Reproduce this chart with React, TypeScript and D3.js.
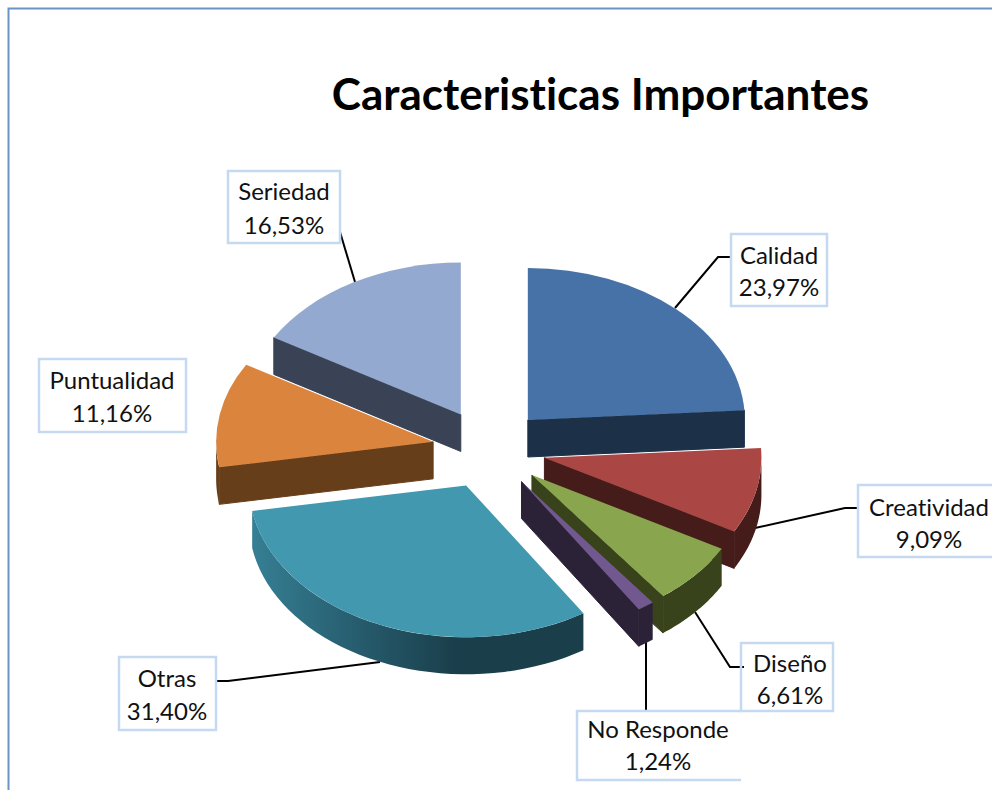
import React from "react";
import * as d3 from "d3";

// Survey shares, listed clockwise from twelve o'clock
const categories = ["Calidad", "Creatividad", "Diseño", "No Responde", "Otras", "Puntualidad", "Seriedad"];
const shares = [23.97, 9.09, 6.61, 1.24, 31.4, 11.16, 16.53];
const valueLabels = ["23,97%", "9,09%", "6,61%", "1,24%", "31,40%", "11,16%", "16,53%"];
const topColors = ["#4672a8", "#aa4643", "#89a54e", "#71588f", "#4198af", "#db843d", "#93a9cf"];
const sideColors = ["#1c3048", "#451c19", "#38431c", "#2c2238", "#1a3e4a", "#673e1a", "#3a4356"];
// Back-to-front paint order for the exploded slices
const paintOrder = [6, 5, 0, 1, 2, 3, 4];

// Label boxes: [left, top, right, bottom] and text centre / baselines
const labelBoxes = [
  [731, 234, 827, 306],
  [858, 485, 1000, 557],
  [741, 643, 833, 711],
  [577, 711, 741, 780],
  [119, 657, 216, 730],
  [39, 359, 186, 432],
  [228, 171, 340, 243],
];
const labelText = [
  [779, 264, 296],
  [929, 516, 548],
  [790, 672, 704],
  [658, 738, 770],
  [167, 687, 720],
  [112, 389, 422],
  [284, 200, 234],
];
const leaders: [number, number][][] = [
  [[675, 308], [718, 257], [731, 257]],
  [[755, 528], [845, 508], [858, 508]],
  [[695, 612], [730, 667], [744, 667]],
  [[646, 642], [646, 711]],
  [[380, 662], [228, 681], [216, 681]],
  [[340, 232], [355, 282]],
];

const FONT = "Lato, 'Open Sans', sans-serif";
const cx = 489;
const cy = 449;
const rx = 217;
const tilt = 0.7;
const explode = 56.8;
const depth = 37;

const pie = d3.pie<number>().sort(null).startAngle(0).endAngle(2 * Math.PI);
const arcs = pie(shares);
const topFace = d3.arc<d3.PieArcDatum<number>>().innerRadius(0).outerRadius(rx);
const line = d3.line();

// Projects a polar position (clockwise from the top) onto the tilted plane
const project = (ax: number, ay: number, angle: number, r = rx): [number, number] => [
  ax + r * Math.sin(angle),
  ay - r * tilt * Math.cos(angle),
];

function Slice({ index }: { index: number }) {
  const a = arcs[index];
  const mid = (a.startAngle + a.endAngle) / 2;
  const [ax, ay] = project(cx, cy, mid, explode);
  const side = sideColors[index];
  const quad = (angle: number) => {
    const [px, py] = project(ax, ay, angle);
    return line([[ax, ay], [px, py], [px, py + depth], [ax, ay + depth]]) + "Z";
  };
  const from = Math.max(a.startAngle, Math.PI / 2);
  const to = Math.min(a.endAngle, (3 * Math.PI) / 2);
  let wall: string | null = null;
  if (to > from) {
    const steps = d3.range(0, 41).map((i) => from + ((to - from) * i) / 40);
    const upper = steps.map((t) => project(ax, ay, t));
    const lower = upper.map(([x, y]) => [x, y + depth] as [number, number]).reverse();
    wall = line([...upper, ...lower]) + "Z";
  }
  const wallFill = categories[index] === "Otras" ? "url(#otrasWall)" : side;
  return (
    <g>
      {Math.sin(a.endAngle) > 0 && <path d={quad(a.endAngle)} fill={side} stroke={side} strokeWidth={1} strokeLinejoin="round" />}
      {Math.sin(a.startAngle) < 0 && <path d={quad(a.startAngle)} fill={side} stroke={side} strokeWidth={1} strokeLinejoin="round" />}
      {wall && <path d={wall} fill={wallFill} />}
      <path
        d={topFace(a) ?? ""}
        transform={`translate(${ax},${ay}) scale(1,${tilt})`}
        fill={topColors[index]}
      />
    </g>
  );
}

export default function App() {
  const textStyle = { fontVariantLigatures: "none" } as React.CSSProperties;
  return (
    <svg
      width={992}
      height={790}
      viewBox="0 0 992 790"
      style={{ position: "absolute", left: 0, top: 0, background: "#fff" }}
    >
      <defs>
        <linearGradient id="otrasWall" x1="0" x2="1" y1="0" y2="0">
          <stop offset="0" stopColor="#367f94" />
          <stop offset="0.35" stopColor="#25596a" />
          <stop offset="0.62" stopColor="#1a3e4a" />
          <stop offset="1" stopColor="#1a3e4a" />
        </linearGradient>
      </defs>

      <path d="M8.5,800V8.5H1000" fill="none" stroke="#6a93c6" strokeWidth={2} />

      <text x={600.5} y={110} textAnchor="middle" fontFamily={FONT} fontWeight={700} fontSize={44} fill="#000" style={textStyle}>
        Caracteristicas Importantes
      </text>

      {leaders.map((pts, i) => (
        <path key={i} d={line(pts) ?? ""} fill="none" stroke="#000" strokeWidth={2} />
      ))}

      {paintOrder.map((i) => (
        <Slice key={categories[i]} index={i} />
      ))}

      {categories.map((name, i) => {
        const [l, t, r, b] = labelBoxes[i];
        const [tx, y1, y2] = labelText[i];
        const open = name === "No Responde";
        return (
          <g key={name}>
            {open ? (
              <path d={`M${r},${t}H${l}V${b}H${r}`} fill="none" stroke="#c5d9f1" strokeWidth={2.5} />
            ) : (
              <rect x={l} y={t} width={r - l} height={b - t} fill="none" stroke="#c5d9f1" strokeWidth={2.5} />
            )}
            <text x={tx} y={y1} textAnchor="middle" fontFamily={FONT} fontSize={24} fill="#111" style={textStyle}>
              {name}
            </text>
            <text x={tx} y={y2} textAnchor="middle" fontFamily={FONT} fontSize={24} fill="#111" style={textStyle}>
              {valueLabels[i]}
            </text>
          </g>
        );
      })}
    </svg>
  );
}
